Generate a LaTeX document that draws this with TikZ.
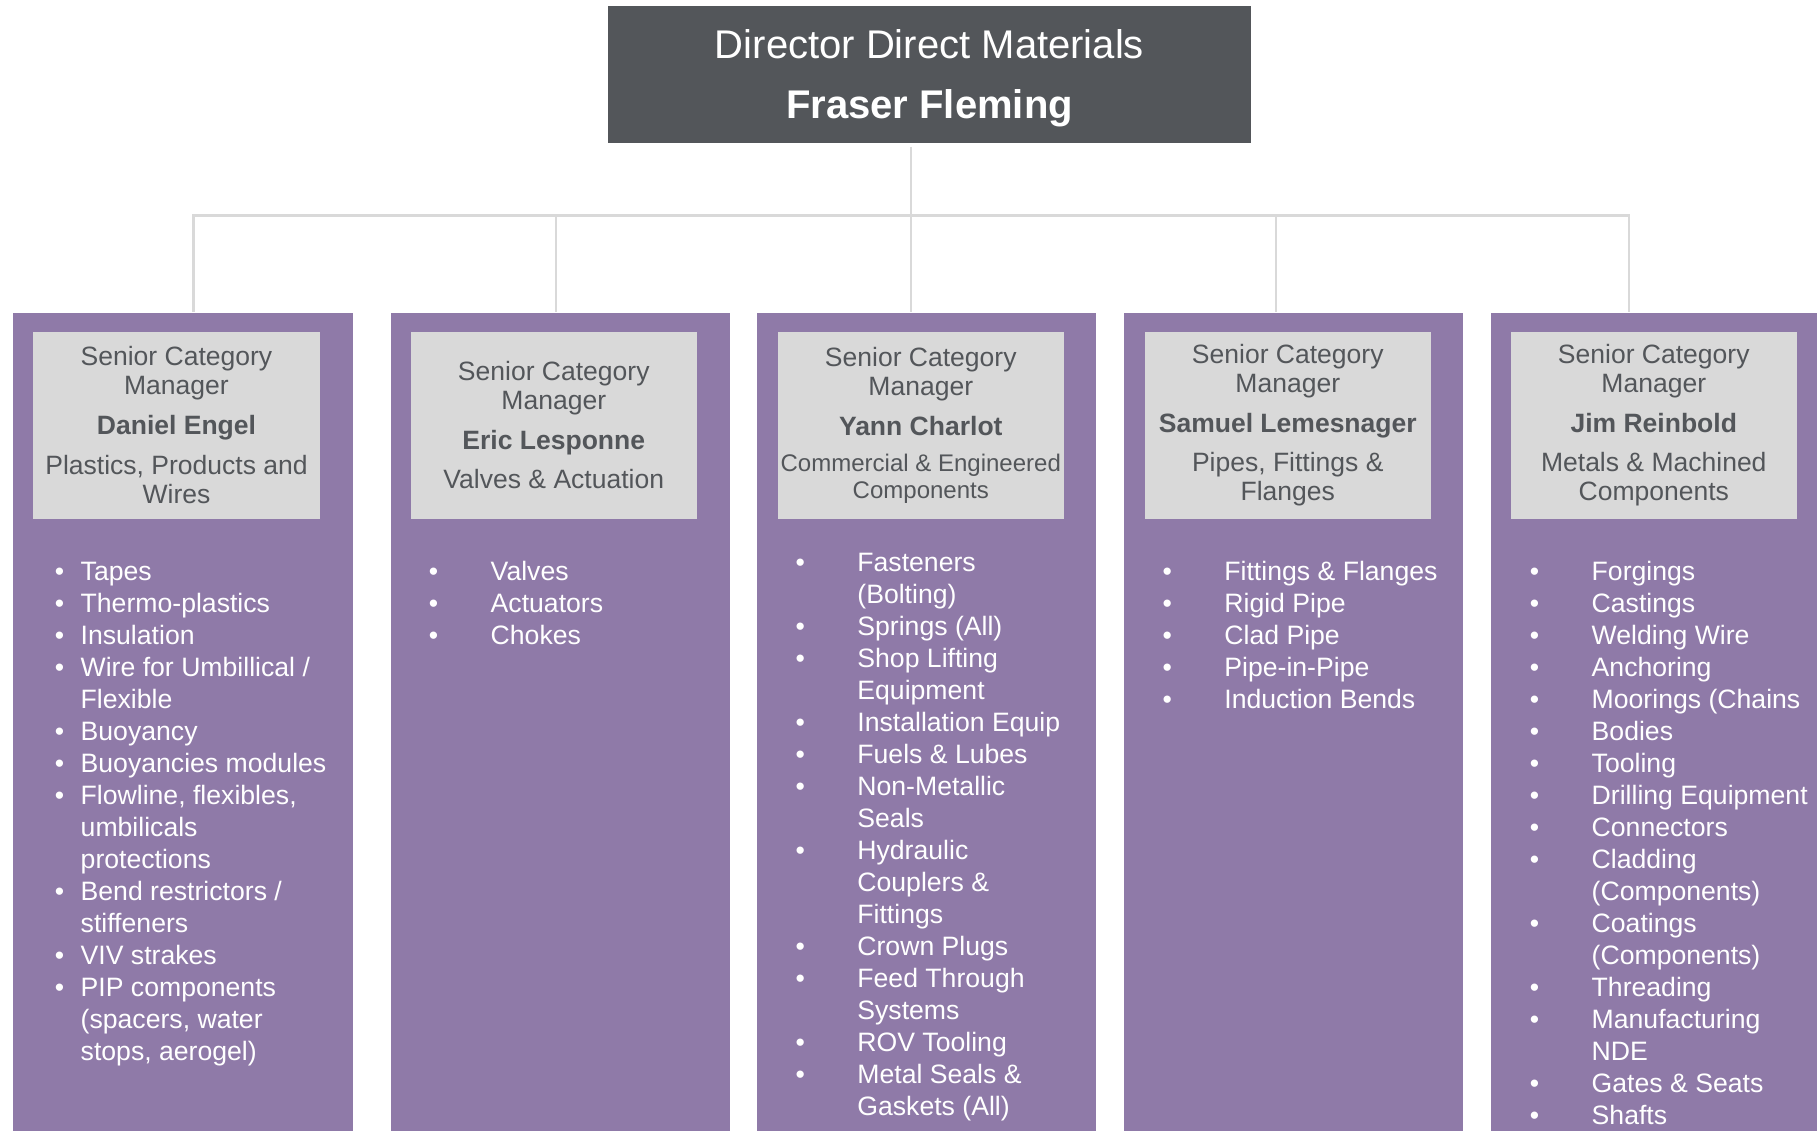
\documentclass[tikz,border=0pt]{standalone}
\usepackage{fontspec}
\setmainfont{Liberation Sans}
\usetikzlibrary{positioning}
\definecolor{headgray}{HTML}{53565A}
\definecolor{catpurple}{HTML}{8F7AA8}
\definecolor{boxgray}{HTML}{D9D9D9}
\definecolor{linkgray}{HTML}{D9D9D9}
\newlength{\bulgap}
\setlength{\bulgap}{14.9pt}
\newcommand{\bul}{\llap{\textbullet\hspace{\bulgap}}}
\newcommand{\deptsmall}{\fontsize{6.83}{7.6}\selectfont}
\newcommand{\sinkline}[1]{\raisebox{-1pt}[\height][\depth]{#1}}

\tikzset{
  director/.style={fill=headgray, text=white, inner sep=0pt, align=center,
    minimum width=6.43cm, minimum height=1.37cm,
    font=\fontsize{11.38}{17.07}\selectfont},
  catcol/.style={fill=catpurple, inner sep=0pt, anchor=north west,
    minimum width=3.39cm, minimum height=8.3cm},
  mgrbox/.style={fill=boxgray, text=headgray, inner sep=0pt, align=center,
    anchor=north west, minimum width=2.86cm, minimum height=1.87cm,
    font=\fontsize{7.54}{8.25}\selectfont},
  % base anchor sits on the last line of the list
  items/.style={text=white, inner sep=0pt, align=left, anchor=base west,
    font=\fontsize{7.57}{9.1}\selectfont},
  link/.style={draw=linkgray, line width=0.7pt}
}

\begin{document}
\begin{tikzpicture}[x=0.01cm, y=-0.01cm]
	\useasboundingbox (0,0) rectangle (1817,1131);
	
	% director
	\node[director] (director) at (929.5,74.5) {\sinkline{Director Direct Materials}\\\sinkline{\textbf{Fraser Fleming}}};
	
	% purple category columns
	\node[catcol] (col1) at (12.7,312) {};
	\node[catcol] (col2) at (390,312) {};
	\node[catcol] (col3) at (756,312) {};
	\node[catcol] (col4) at (1123,312) {};
	\node[catcol] (col5) at (1490,312) {};
	
	% org lines
	\coordinate (root) at (911,147);
	\coordinate (bus) at (911,215.5);
	\coordinate (drop1) at (193.5,312);
	\coordinate (drop2) at (556,312);
	\coordinate (drop3) at (911,312);
	\coordinate (drop4) at (1276,312);
	\coordinate (drop5) at (1629,312);
	\draw[link] (root) -- (bus);
	\foreach \i in {1,...,5}
		\draw[link] (bus) -| (drop\i);
	
	% managers
	\node[mgrbox] (mgr1) at ([shift={(20,19)}]col1.north west)
		{Senior Category\\Manager\\[3.1pt]\textbf{Daniel Engel}\\[3pt]Plastics, Products and\\Wires};
	\node[mgrbox] (mgr2) at ([shift={(20,19)}]col2.north west)
		{Senior Category\\Manager\\[3.1pt]\textbf{Eric Lesponne}\\[3pt]Valves \& Actuation};
	\node[mgrbox] (mgr3) at ([shift={(21,19)}]col3.north west)
		{Senior Category\\Manager\\[3.1pt]\textbf{Yann Charlot}\\[2.2pt]\deptsmall Commercial \& Engineered\\[-0.7pt]\deptsmall Components};
	\node[mgrbox] (mgr4) at ([shift={(21,19)}]col4.north west)
		{Senior Category\\Manager\\[3.1pt]\textbf{Samuel Lemesnager}\\[3pt]Pipes, Fittings \&\\Flanges};
	\node[mgrbox] (mgr5) at ([shift={(20,19)}]col5.north west)
		{Senior Category\\Manager\\[3.1pt]\textbf{Jim Reinbold}\\[3pt]Metals \& Machined\\Components};
	
	% category lists (y shift = last baseline)
	\node[items, font=\fontsize{7.57}{9.1}\selectfont\setlength{\bulgap}{4.7pt}] (list1) at ([shift={(67.3,748.3)}]col1.north west)
		{\bul Tapes\\\bul Thermo-plastics\\\bul Insulation\\\bul Wire for Umbillical /\\Flexible\\\bul Buoyancy\\\bul Buoyancies modules\\\bul Flowline, flexibles,\\umbilicals\\protections\\\bul Bend restrictors /\\stiffeners\\\bul VIV strakes\\\bul PIP components\\(spacers, water\\stops, aerogel)};
	\node[items] (list2) at ([shift={(100,332.3)}]col2.north west)
		{\bul Valves\\\bul Actuators\\\bul Chokes};
	\node[items] (list3) at ([shift={(100.7,803.2)}]col3.north west)
		{\bul Fasteners\\(Bolting)\\\bul Springs (All)\\\bul Shop Lifting\\Equipment\\\bul Installation Equip\\\bul Fuels \& Lubes\\\bul Non-Metallic\\Seals\\\bul Hydraulic\\Couplers \&\\Fittings\\\bul Crown Plugs\\\bul Feed Through\\Systems\\\bul ROV Tooling\\\bul Metal Seals \&\\Gaskets (All)};
	\node[items] (list4) at ([shift={(100.7,396.3)}]col4.north west)
		{\bul Fittings \& Flanges\\\bul Rigid Pipe\\\bul Clad Pipe\\\bul Pipe-in-Pipe\\\bul Induction Bends};
	\node[items] (list5) at ([shift={(101,812.3)}]col5.north west)
		{\bul Forgings\\\bul Castings\\\bul Welding Wire\\\bul Anchoring\\\bul Moorings (Chains\\\bul Bodies\\\bul Tooling\\\bul Drilling Equipment\\\bul Connectors\\\bul Cladding\\(Components)\\\bul Coatings\\(Components)\\\bul Threading\\\bul Manufacturing\\NDE\\\bul Gates \& Seats\\\bul Shafts};
\end{tikzpicture}
\end{document}
